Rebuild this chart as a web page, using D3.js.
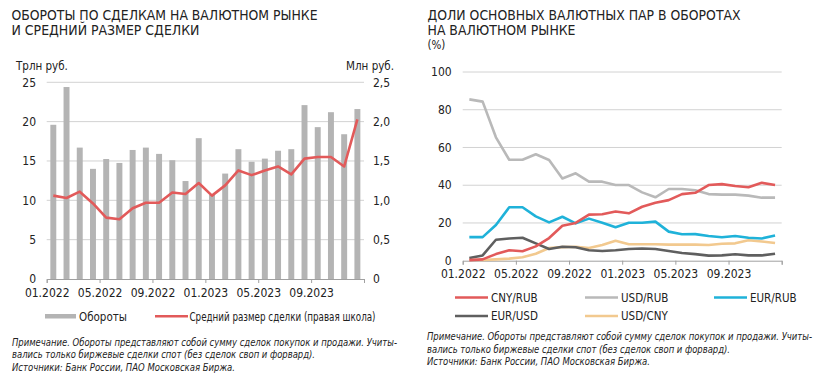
<!DOCTYPE html>
<html>
<head>
<meta charset="utf-8">
<script src="https://cdn.jsdelivr.net/npm/d3@7"></script>
<style>
    body { margin: 0; background: #fff; }
    svg { display: block; }
    .narrow { font-family: 'Liberation Sans Narrow', 'DejaVu Sans Condensed', 'Roboto', sans-serif; }
    .note { font-family: 'Liberation Sans Narrow', 'DejaVu Sans Condensed', sans-serif; font-style: italic; }
</style>
</head>
<body>
<svg id="fig" width="820" height="374"></svg>
<script>
'use strict';

// months 01.2022 .. 12.2023
var months = ['01.2022', '02.2022', '03.2022', '04.2022', '05.2022', '06.2022',
    '07.2022', '08.2022', '09.2022', '10.2022', '11.2022', '12.2022',
    '01.2023', '02.2023', '03.2023', '04.2023', '05.2023', '06.2023',
    '07.2023', '08.2023', '09.2023', '10.2023', '11.2023', '12.2023'];

// left chart: turnover (trln rub) and average deal size (mln rub, right scale)
var turnover = [19.6, 24.4, 16.7, 14.0, 15.25, 14.75, 16.4, 16.7, 15.9, 15.1, 12.45, 17.9,
    10.7, 13.4, 16.5, 14.9, 15.3, 16.3, 16.5, 22.1, 19.3, 21.2, 18.4, 21.6];
var avg_deal = [1.06, 1.03, 1.11, 0.96, 0.78, 0.76, 0.90, 0.97, 0.97, 1.10, 1.08, 1.22,
    1.06, 1.19, 1.38, 1.32, 1.38, 1.43, 1.33, 1.53, 1.55, 1.55, 1.43, 2.03];
var left_ticks = [0, 5, 10, 15, 20, 25];
var right_ticks = ['0', '0,5', '1,0', '1,5', '2,0', '2,5'];

// right chart: shares of currency pairs (%)
var pair_names = ['CNY/RUB', 'USD/RUB', 'EUR/RUB', 'EUR/USD', 'USD/CNY'];
var cny_rub = [0.3, 0.7, 3.5, 5.5, 5.0, 7.6, 12.0, 18.5, 20.0, 24.4, 24.6, 26.1,
    25.1, 28.6, 30.7, 32.1, 35.3, 36.0, 40.1, 40.6, 39.6, 38.9, 41.3, 40.1];
var usd_rub = [85.5, 84.3, 65.4, 53.5, 53.5, 56.4, 53.4, 43.6, 46.3, 41.9, 41.9, 40.1,
    40.1, 36.2, 33.6, 38.0, 38.0, 37.3, 35.3, 35.0, 35.0, 34.5, 33.4, 33.4];
var eur_rub = [12.5, 12.5, 18.9, 28.3, 28.3, 23.5, 20.3, 23.3, 19.8, 22.3, 20.1, 17.7,
    20.1, 20.1, 20.7, 15.4, 14.0, 14.1, 13.1, 12.4, 13.1, 12.2, 11.8, 13.3];
var eur_usd = [1.4, 2.8, 11.1, 11.8, 12.2, 9.2, 6.2, 7.4, 7.1, 5.5, 5.1, 5.5,
    6.2, 6.5, 6.2, 5.1, 4.1, 3.5, 2.7, 2.8, 3.4, 2.8, 2.8, 3.7];
var usd_cny = [0.5, 0.4, 0.7, 1.1, 1.8, 3.7, 6.7, 7.2, 7.4, 6.7, 8.3, 10.6,
    8.7, 8.7, 8.7, 8.5, 8.5, 8.5, 8.3, 9.0, 9.2, 10.8, 10.2, 9.4];
var pct_ticks = [0, 20, 40, 60, 80, 100];

var note_lines = [
    'Примечание. Обороты представляют собой сумму сделок покупок и продажи. Учиты-',
    'вались только биржевые сделки спот (без сделок своп и форвард).',
    'Источники: Банк России, ПАО Московская Биржа.'
];

// widths the reference text occupies (px), so the chosen fonts fit
var note_width = [385, 303, 223];
var left_title_width = [306, 188];
var right_title_width = [313, 148];

var color_bar = '#b4b4b4';
var color_grid = '#d2d2d2';
var color_axis = '#a0a0a0';
var color_text = '#222';
var pair_colors = ['#e25a5a', '#b9b9b9', '#1fb2d9', '#5f5f5f', '#f2c98f'];
var font_size = 12;

var svg = d3.select('#fig');

function draw_title(x, y, lines, widths) {
    lines.forEach(function(s, i) {
        svg.append('text')
            .attr('class', 'narrow')
            .attr('x', x)
            .attr('y', y + i * 15.5)
            .attr('font-size', 14.5)
            .attr('fill', color_text)
            .attr('textLength', widths[i])
            .attr('lengthAdjust', 'spacingAndGlyphs')
            .text(s);
    });
}

function draw_note(x, y) {
    note_lines.forEach(function(s, i) {
        svg.append('text')
            .attr('class', 'note')
            .attr('x', x)
            .attr('y', y + i * 12.6)
            .attr('font-size', 10.5)
            .attr('fill', color_text)
            .attr('textLength', note_width[i])
            .attr('lengthAdjust', 'spacingAndGlyphs')
            .text(s);
    });
}

// month-boundary ticks along the bottom
function draw_xaxis(xl, y0) {
    var g = svg.append('g')
        .attr('class', 'narrow')
        .attr('transform', 'translate(0,' + y0 + ')')
        .call(d3.axisBottom(xl)
            .tickValues([0, 4, 8, 12, 16, 20, 24])
            .tickSize(4)
            .tickFormat(function(i) { return months[i] || ''; }));
    g.select('.domain').attr('stroke', color_axis);
    g.selectAll('.tick line').attr('stroke', color_axis);
    g.selectAll('.tick text')
        .attr('font-size', font_size)
        .attr('fill', color_text)
        .attr('dy', '0.9em');
}

// ---------- left chart ----------
var L = { x0: 46.7, x1: 364, y0: 279, y1: 82.3 };
var xl_left = d3.scaleLinear().domain([0, 24]).range([L.x0, L.x1]);
var xb_left = d3.scaleBand().domain(months).range([L.x0, L.x1])
    .paddingInner(0.55).paddingOuter(0.275);
var y_left = d3.scaleLinear().domain([0, 25]).range([L.y0, L.y1]);
var y_right = d3.scaleLinear().domain([0, 2.5]).range([L.y0, L.y1]);

draw_title(11.5, 19.5, ['ОБОРОТЫ ПО СДЕЛКАМ НА ВАЛЮТНОМ РЫНКЕ', 'И СРЕДНИЙ РАЗМЕР СДЕЛКИ'],
    left_title_width);

svg.append('g').selectAll('line')
    .data(left_ticks.slice(1))
    .enter().append('line')
    .attr('x1', L.x0).attr('x2', L.x1)
    .attr('y1', function(d) { return y_left(d); })
    .attr('y2', function(d) { return y_left(d); })
    .attr('stroke', color_grid);

svg.append('g').selectAll('rect')
    .data(turnover)
    .enter().append('rect')
    .attr('x', function(d, i) { return xb_left(months[i]); })
    .attr('y', function(d) { return y_left(d); })
    .attr('width', xb_left.bandwidth())
    .attr('height', function(d) { return L.y0 - y_left(d); })
    .attr('fill', color_bar);

draw_xaxis(xl_left, L.y0);

svg.append('path')
    .datum(avg_deal)
    .attr('fill', 'none')
    .attr('stroke', pair_colors[0])
    .attr('stroke-width', 2.6)
    .attr('stroke-linejoin', 'round')
    .attr('d', d3.line()
        .x(function(d, i) { return xb_left(months[i]) + xb_left.bandwidth() / 2; })
        .y(function(d) { return y_right(d); }));

// y tick labels, both sides
svg.append('g').attr('class', 'narrow').selectAll('text')
    .data(left_ticks)
    .enter().append('text')
    .attr('x', 36)
    .attr('y', function(d) { return y_left(d); })
    .attr('dy', '0.35em')
    .attr('text-anchor', 'end')
    .attr('font-size', font_size)
    .attr('fill', color_text)
    .text(function(d) { return d; });
svg.append('g').attr('class', 'narrow').selectAll('text')
    .data(right_ticks)
    .enter().append('text')
    .attr('x', 373)
    .attr('y', function(d, i) { return y_left(left_ticks[i]); })
    .attr('dy', '0.35em')
    .attr('font-size', font_size)
    .attr('fill', color_text)
    .text(function(d) { return d; });
svg.append('text').attr('class', 'narrow')
    .attr('x', 16).attr('y', 70)
    .attr('font-size', 11.5).attr('fill', color_text)
    .text('Трлн руб.');
svg.append('text').attr('class', 'narrow')
    .attr('x', 394).attr('y', 70)
    .attr('text-anchor', 'end')
    .attr('font-size', 11.5).attr('fill', color_text)
    .text('Млн руб.');

// left legend
svg.append('rect')
    .attr('x', 45).attr('y', 314).attr('width', 31).attr('height', 4.5)
    .attr('fill', color_bar);
svg.append('text').attr('class', 'narrow')
    .attr('x', 79).attr('y', 321)
    .attr('font-size', 11.5).attr('fill', color_text)
    .text('Обороты');
svg.append('line')
    .attr('x1', 155).attr('x2', 188).attr('y1', 316.3).attr('y2', 316.3)
    .attr('stroke', pair_colors[0]).attr('stroke-width', 2.6);
svg.append('text').attr('class', 'narrow')
    .attr('x', 189.5).attr('y', 321)
    .attr('font-size', 11.5).attr('fill', color_text)
    .attr('textLength', 186)
    .attr('lengthAdjust', 'spacingAndGlyphs')
    .text('Средний размер сделки (правая школа)');

draw_note(12, 345.5);

// ---------- right chart ----------
var R = { x0: 462.7, x1: 781.7, y0: 260.7, y1: 72 };
var xl_right = d3.scaleLinear().domain([0, 24]).range([R.x0, R.x1]);
var y_pct = d3.scaleLinear().domain([0, 100]).range([R.y0, R.y1]);
var pair_series = [cny_rub, usd_rub, eur_rub, eur_usd, usd_cny];

draw_title(427.5, 19.5, ['ДОЛИ ОСНОВНЫХ ВАЛЮТНЫХ ПАР В ОБОРОТАХ', 'НА ВАЛЮТНОМ РЫНКЕ'],
    right_title_width);
svg.append('text').attr('class', 'narrow')
    .attr('x', 427.5).attr('y', 49)
    .attr('font-size', 11.5).attr('fill', color_text)
    .text('(%)');

svg.append('g').selectAll('line')
    .data(pct_ticks.slice(1))
    .enter().append('line')
    .attr('x1', R.x0).attr('x2', R.x1)
    .attr('y1', function(d) { return y_pct(d); })
    .attr('y2', function(d) { return y_pct(d); })
    .attr('stroke', color_grid);

svg.append('g').attr('class', 'narrow').selectAll('text')
    .data(pct_ticks)
    .enter().append('text')
    .attr('x', 451.7)
    .attr('y', function(d) { return y_pct(d); })
    .attr('dy', '0.35em')
    .attr('text-anchor', 'end')
    .attr('font-size', font_size)
    .attr('fill', color_text)
    .text(function(d) { return d; });

draw_xaxis(xl_right, R.y0);

var pair_line = d3.line()
    .x(function(d, i) { return xl_right(i + 0.5); })
    .y(function(d) { return y_pct(d); });

// draw back to front: dark and tan under the others
[4, 3, 2, 1, 0].forEach(function(k) {
    svg.append('path')
        .datum(pair_series[k])
        .attr('fill', 'none')
        .attr('stroke', pair_colors[k])
        .attr('stroke-width', 2.6)
        .attr('stroke-linejoin', 'round')
        .attr('d', pair_line);
});

// right legend: 3 columns, 2 rows
var leg_x = [455, 585, 714];
pair_names.forEach(function(name, k) {
    var lx = leg_x[k % 3];
    var ly = k < 3 ? 297.5 : 316;
    svg.append('line')
        .attr('x1', lx).attr('x2', lx + 33)
        .attr('y1', ly).attr('y2', ly)
        .attr('stroke', pair_colors[k]).attr('stroke-width', 2.6);
    svg.append('text').attr('class', 'narrow')
        .attr('x', lx + 36).attr('y', ly + 4.2)
        .attr('font-size', 11.5).attr('fill', color_text)
        .text(name);
});

draw_note(427, 340);
</script>
</body>
</html>
